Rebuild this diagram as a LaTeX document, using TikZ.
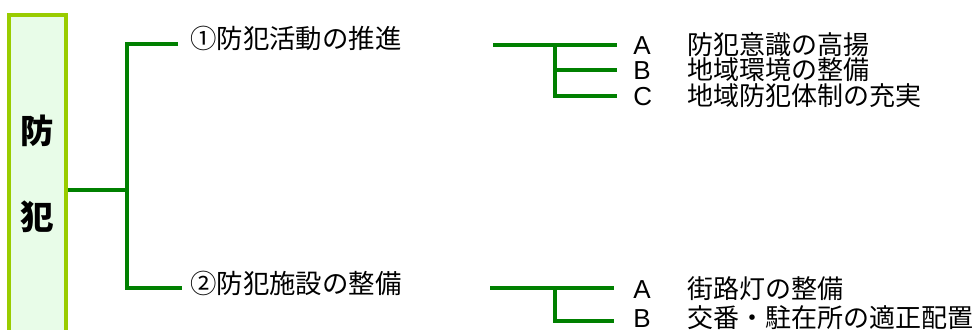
\documentclass[tikz,border=0pt]{standalone}
\usepackage{fontspec}
\setmainfont{Noto Sans CJK JP}
\newfontfamily\latinfont{Liberation Sans}
\usetikzlibrary{positioning}

\definecolor{branchgreen}{RGB}{0,128,0}
\definecolor{boxedge}{RGB}{153,204,0}
\definecolor{boxfill}{RGB}{232,252,232}

% letter in front of each item
\newcommand{\itemkey}[1]{\makebox[40.5pt][l]{\latinfont #1}}

\begin{document}
\begin{tikzpicture}[x=0.75pt,y=-0.75pt]

    % Styles
    \tikzset{
        branch/.style={draw=branchgreen, line width=2.3pt},
        rootbox/.style={rectangle, draw=boxedge, fill=boxfill, line width=3pt,
            minimum width=42.75pt, minimum height=247.5pt, inner sep=0pt},
        rootchar/.style={font=\bfseries\fontsize{25}{25}\selectfont, inner sep=0pt},
        headtext/.style={anchor=west, font=\fontsize{19.8}{20}\selectfont, inner sep=0pt},
        itemtext/.style={anchor=west, font=\fontsize{19.5}{20}\selectfont, inner sep=0pt}
    }

    % Page frame
    \useasboundingbox (0,0) rectangle (980,329);
    \clip (0,0) rectangle (980,329);
    \fill[white] (0,0) rectangle (980,329);

    % Left box (runs off the bottom edge)
    \node[rootbox] (root) at (37.5,180) {};
    \node[rootchar] (bou) at (37,131) {防};
    \node[rootchar] (han) at (37,217) {犯};

    % Coordinates
    \coordinate (trunk) at (127,190);     % split point of the main bracket
    \coordinate (actin) at (178,44);      % end towards (1)
    \coordinate (facin) at (182,288);     % end towards (2)
    \coordinate (actout) at (493,45);     % start of right bracket (1)
    \coordinate (actjoint) at (555,45);
    \coordinate (facout) at (490,288);    % start of right bracket (2)
    \coordinate (facjoint) at (555,288);
    \coordinate (facend) at (614,321);    % lower end of right bracket (2)

    % Main headings
    \node[headtext] (act) at (190,38) {①防犯活動の推進};
    \node[headtext] (fac) at (190,283) {②防犯施設の整備};

    % Items
    \node[itemtext] (actA) at (633,45) {\itemkey{A}防犯意識の高揚};
    \node[itemtext] (actB) at (633,70) {\itemkey{B}地域環境の整備};
    \node[itemtext] (actC) at (633,96) {\itemkey{C}地域防犯体制の充実};
    \node[itemtext] (facA) at (633,289) {\itemkey{A}街路灯の整備};
    \node[itemtext] (facB) at (633,318) {\itemkey{B}交番・駐在所の適正配置};

    % Main bracket
    \draw[branch] (root.east |- trunk) -- (trunk);
    \draw[branch] (actin) -| (trunk) |- (facin);

    % Bracket (1)
    \draw[branch] (actout) -- ([xshift=-12pt]actA.west);
    \draw[branch] (actjoint) |- ([xshift=-12pt]actC.west);
    \draw[branch] (actjoint |- actB) -- ([xshift=-12pt]actB.west);

    % Bracket (2)
    \draw[branch] (facout) -- (facout -| facend);
    \draw[branch] (facjoint) |- (facend);

\end{tikzpicture}
\end{document}
